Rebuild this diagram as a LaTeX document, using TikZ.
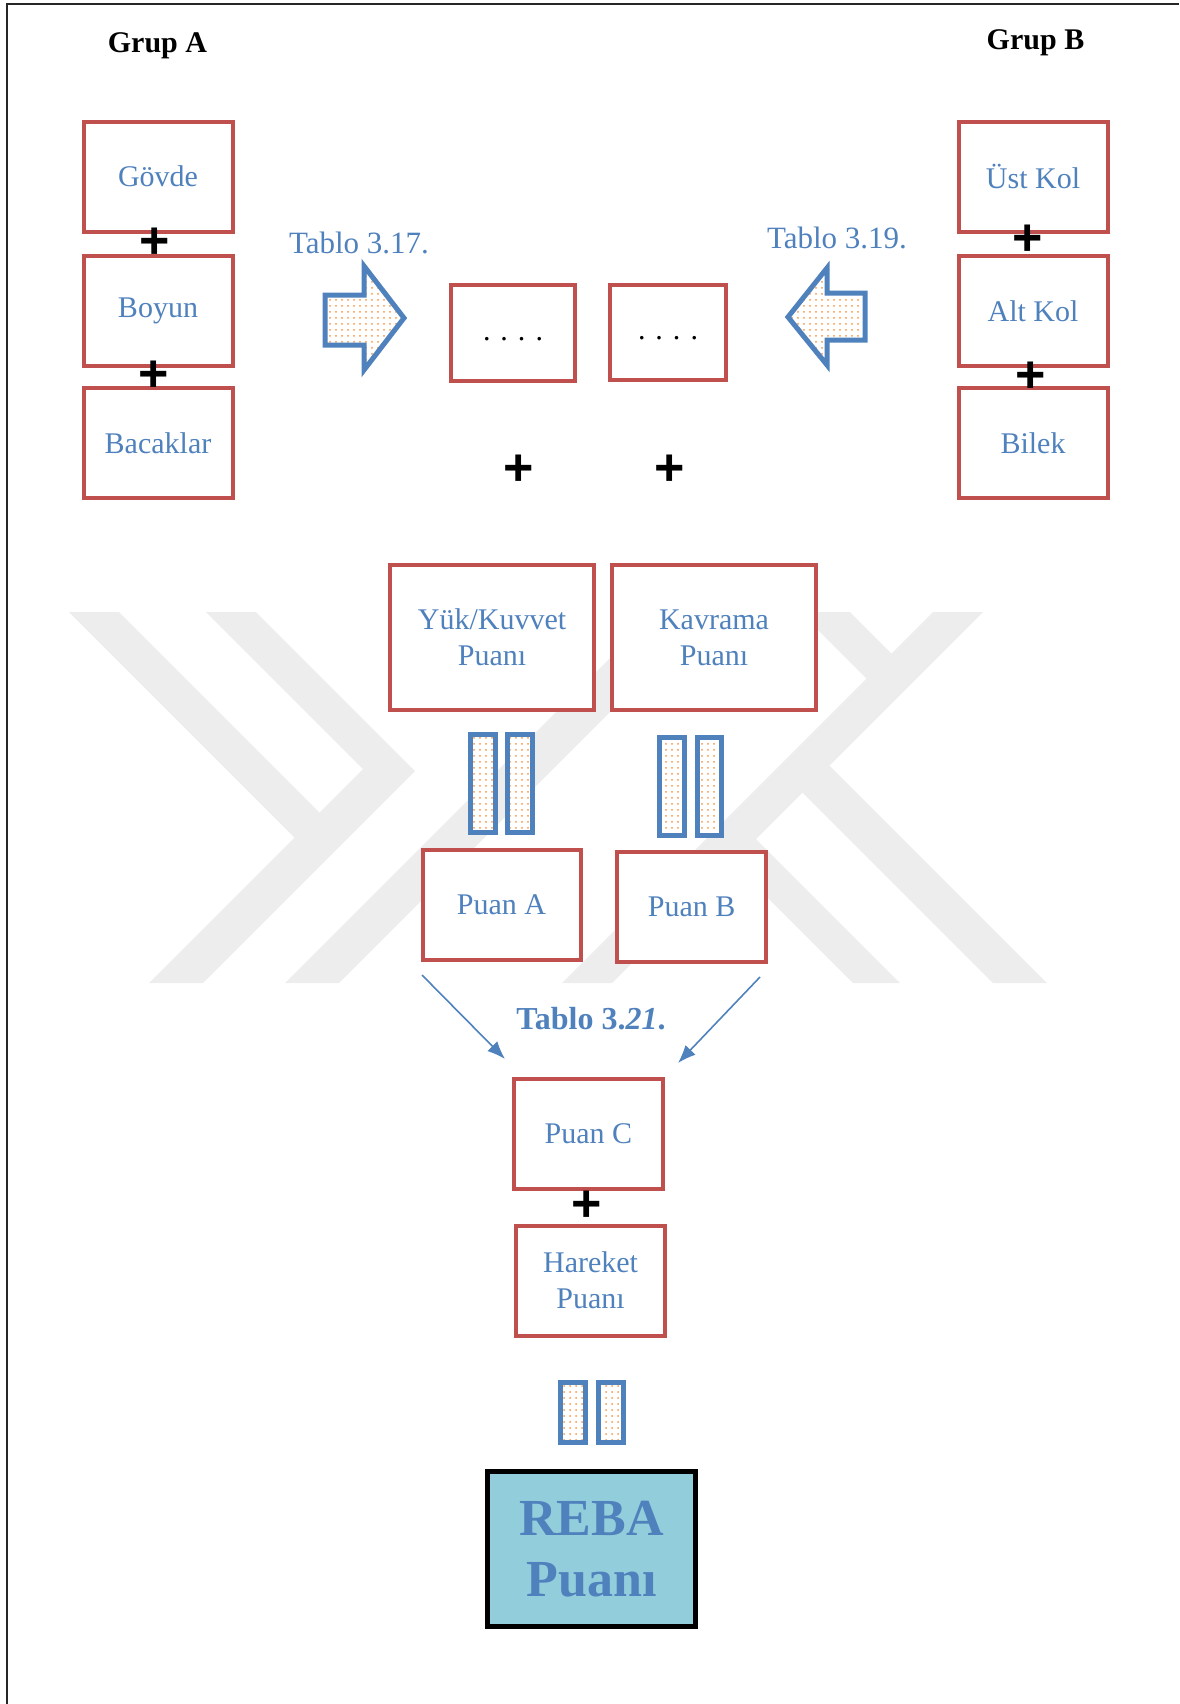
\documentclass[tikz,border=0pt]{standalone}
\usepackage{fontspec}
\setmainfont{Liberation Serif}
\newfontfamily\plusfont{Liberation Sans}
\usetikzlibrary{arrows.meta,patterns}
\definecolor{BoxClr}{HTML}{C0504D}
\definecolor{TextClr}{HTML}{4F81BD}
\definecolor{DotClr}{HTML}{F79646}
\definecolor{RebaClr}{HTML}{92CDDC}
\definecolor{MarkClr}{HTML}{EDEDED}

\begin{document}
\begin{tikzpicture}[x=0.5pt,y=-0.5pt,
  box/.style={draw=BoxClr,line width=2pt,fill=white,inner sep=0pt,text=TextClr,align=center,
    font=\fontsize{15}{18}\selectfont,minimum width=74.5pt,minimum height=55pt},
  plusmark/.style={font=\plusfont\bfseries\fontsize{26}{26}\selectfont,inner sep=0pt},
  eqbar/.style={draw=TextClr,line width=2.5pt,pattern=dots,pattern color=DotClr,preaction={fill=white}},
  blockarr/.style={eqbar,line join=miter},
  link/.style={draw=TextClr,line width=0.8pt,-{Latex[length=9pt,width=7pt]}},
  tablo/.style={text=TextClr,font=\fontsize{15.5}{18}\selectfont},
  grup/.style={font=\fontsize{15}{18}\selectfont\bfseries}]
\useasboundingbox (0,0) rectangle (1179,1704);

\fill[MarkClr] (69,612) -- (119,612) -- (320,813) -- (295,838) -- cycle;
\fill[MarkClr] (149,983) -- (363,769) -- (206,612) -- (256,612) -- (415,771) -- (203,983) -- cycle;
\fill[MarkClr] (285,983) -- (339,983) -- (710,612) -- (656,612) -- cycle;
\fill[MarkClr] (562,983) -- (612,983) -- (983,612) -- (933,612) -- cycle;
\fill[MarkClr] (993,983) -- (1047,983) -- (830,766) -- (778,768) -- cycle;
\fill[MarkClr] (853,983) -- (900,983) -- (756,839) -- (708,838) -- cycle;
\fill[MarkClr] (800,612) -- (850,612) -- (892,654) -- (867,679) -- cycle;

\draw[line width=1pt,black!85] (7,1704) -- (7,4) -- (1179,4);

\node[grup] (grupA) at (157.5,45.6) {Grup A};
\node[grup] (grupB) at (1035.5,42.4) {Grup B};

\node[box] (govde) at (158,176.5) {Gövde};
\node[box] (boyun) at (158,311.4) {Boyun};
\node[box] (bacak) at (158,442.8) {Bacaklar};
\node[box] (ustkol) at (1033,176.5) {Üst Kol};
\node[box] (altkol) at (1033,311.4) {Alt Kol};
\node[box] (bilek) at (1033,442.8) {Bilek};

\node[plusmark] (plusA1) at (155,243) {+};
\node[plusmark] (plusA2) at (154,376) {+};
\node[plusmark] (plusB1) at (1028,240) {+};
\node[plusmark] (plusB2) at (1031,377) {+};

\node[tablo] (tablo17) at (359,243) {Tablo 3.17.};
\node[tablo] (tablo19) at (837,238) {Tablo 3.19.};

\draw[blockarr] (325,295) -- (364,295) -- (364,266) -- (404,318) -- (364,370) -- (364,345) -- (325,345) -- cycle;
\draw[blockarr] (865,293) -- (827,293) -- (827,268) -- (788,317) -- (827,365) -- (827,340) -- (865,340) -- cycle;

\node[box,minimum width=62pt,minimum height=48pt,text=black] (bosA) at (513,333) {\strut. . . .};
\node[box,minimum width=58pt,minimum height=47.5pt,text=black] (bosB) at (668,332.5) {\strut. . . .};

\node[plusmark] (plusC1) at (519,470) {+};
\node[plusmark] (plusC2) at (670,470) {+};

\node[box,minimum width=102.3pt,minimum height=72.5pt] (yuk) at (492,637.5) {Yük/Kuvvet\\Puanı};
\node[box,minimum width=102.3pt,minimum height=72.5pt] (kavrama) at (714,637.5) {Kavrama\\Puanı};

\draw[eqbar] (470.5,734.5) rectangle (495.5,832.5);
\draw[eqbar] (507.5,734.5) rectangle (532.5,832.5);
\draw[eqbar] (659.5,737.5) rectangle (684.5,835.5);
\draw[eqbar] (697.5,737.5) rectangle (721.5,835.5);

\node[box,minimum width=79pt] (puanA) at (501.5,904.6) {Puan A};
\node[box] (puanB) at (691.6,906.8) {Puan B};

\coordinate (fromA) at (422,975);
\coordinate (toC1) at (505,1059);
\coordinate (fromB) at (760,977);
\coordinate (toC2) at (678,1063);
\draw[link] (fromA) -- (toC1);
\draw[link] (fromB) -- (toC2);
\node[anchor=base,text=TextClr,font=\fontsize{16}{18}\selectfont\bfseries] (tablo21) at (591,1029) {Tablo 3.\textit{21}.};

\node[box] (puanC) at (588.4,1133.9) {Puan C};
\node[plusmark] (plusD) at (587,1206) {+};
\node[box] (hareket) at (590.6,1280.6) {Hareket\\Puanı};

\draw[eqbar] (560.5,1382.5) rectangle (585.5,1442.5);
\draw[eqbar] (598.5,1382.5) rectangle (623.5,1442.5);

\node[draw=black,line width=2.5pt,fill=RebaClr,inner sep=0pt,minimum width=104pt,minimum height=77.5pt,
  align=center,text=TextClr,font=\fontsize{26}{30.5}\selectfont\bfseries] (reba) at (591.5,1549) {REBA\\Puanı};

\end{tikzpicture}
\end{document}
